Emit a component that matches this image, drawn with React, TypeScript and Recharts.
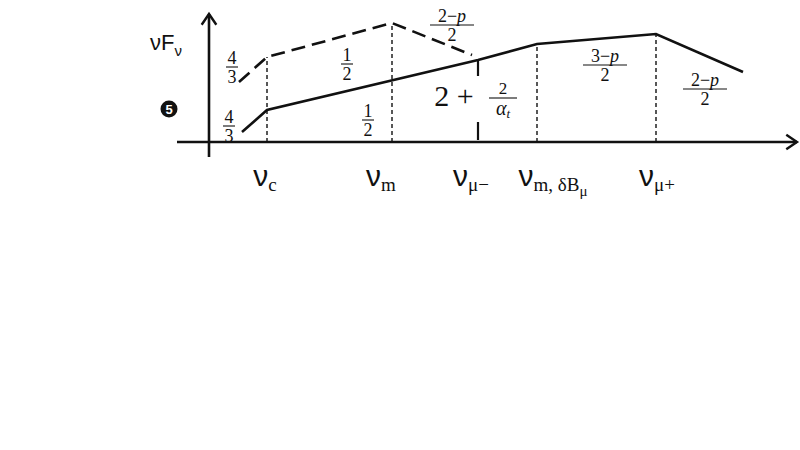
import {
  ComposedChart,
  Line,
  ReferenceDot,
  ReferenceLine,
  XAxis,
  YAxis,
} from "recharts";

// log ν / log νF_ν in arbitrary schematic units (y axis at x = 0, ν axis at y = 0)
const solidX = [3.3, 5.8, 26.9, 32.8, 44.7, 53.4];
const solidY = [1.0, 3.2, 8.2, 9.8, 10.8, 7.0];
const dashedX = [3.0, 5.8, 18.3, 26.3];
const dashedY = [6.0, 8.5, 11.9, 8.7];

// break frequencies
const breakX = [5.8, 18.3, 26.9, 32.8, 44.7];
const breakTop = [8.5, 11.9, 8.2, 9.8, 10.8];
const breakSub = ["c", "m", "μ−", "m, δB", "μ+"];
const breakSubSub = ["", "", "", "μ", ""];

// spectral slopes (numerator / denominator)
const slopeNum = ["4", "4", "1", "1", "2−p", "3−p", "2−p"];
const slopeDen = ["3", "3", "2", "2", "2", "2", "2"];

// where the slope labels sit (bar centre, chart units)
const slopeAt = [
  [2.3, 7.5],
  [2.0, 1.6],
  [13.8, 7.8],
  [15.9, 2.2],
  [24.3, 11.7],
  [39.6, 7.7],
  [49.6, 5.3],
];
// per-label horizontal nudge of the tick labels, px
const tickShift = [-2, -11, -7, 16, 1];

const solid = solidX.map((x, i) => ({ x, y: solidY[i] }));
const dashed = dashedX.map((x, i) => ({ x, y: dashedY[i] }));

const INK = "#111";
const SERIF = "'Liberation Serif', 'DejaVu Serif', serif";
const SANS = "'Liberation Sans', Arial, sans-serif";

function Arrow(props: any) {
  const { x1, y1, x2, y2 } = props;
  const a = Math.atan2(y2 - y1, x2 - x1);
  const len = 13;
  const spread = 0.6;
  const p1 = [x2 - len * Math.cos(a - spread), y2 - len * Math.sin(a - spread)];
  const p2 = [x2 - len * Math.cos(a + spread), y2 - len * Math.sin(a + spread)];
  return (
    <g>
      <line x1={x1} y1={y1} x2={x2} y2={y2} stroke={INK} strokeWidth={2.6} />
      <polyline
        points={`${p1[0]},${p1[1]} ${x2},${y2} ${p2[0]},${p2[1]}`}
        fill="none"
        stroke={INK}
        strokeWidth={2.4}
        strokeLinejoin="miter"
      />
    </g>
  );
}

function Numer({ s }: { s: string }) {
  // italic p in "2−p"
  if (s.endsWith("p")) {
    return (
      <>
        {s.slice(0, -1)}
        <tspan fontStyle="italic">p</tspan>
      </>
    );
  }
  return <>{s}</>;
}

function Fraction({ cx, cy, num, den }: any) {
  const w = num.length > 1 ? 44 : 12;
  return (
    <g fontFamily={SERIF} fontSize={18} fill={INK}>
      <text x={cx} y={cy - 3} textAnchor="middle">
        <Numer s={num} />
      </text>
      <line x1={cx - w / 2} x2={cx + w / 2} y1={cy} y2={cy} stroke={INK} strokeWidth={1.1} />
      <text x={cx} y={cy + 16} textAnchor="middle">
        {den}
      </text>
    </g>
  );
}

function BreakTick(props: any) {
  const { x, y, payload } = props;
  const i = breakX.indexOf(payload.value);
  if (i < 0) return null;
  return (
    <text
      x={x + tickShift[i]}
      y={y + 44}
      textAnchor="middle"
      fill={INK}
    >
      <tspan fontFamily={SANS} fontSize={30}>
        ν
      </tspan>
      <tspan fontFamily={SERIF} fontSize={19} dy={5}>
        {breakSub[i]}
      </tspan>
      {breakSubSub[i] && (
        <tspan fontFamily={SERIF} fontSize={15} dy={5}>
          {breakSubSub[i]}
        </tspan>
      )}
    </text>
  );
}

export default function App() {
  return (
    <div
      style={{
        position: "absolute",
        left: 0,
        top: 0,
        width: 800,
        height: 450,
        background: "#fff",
      }}
    >
      <ComposedChart
        width={800}
        height={450}
        margin={{ top: 7, right: 1, left: 149, bottom: 278 }}
      >
        <XAxis
          type="number"
          dataKey="x"
          domain={[-6, 59]}
          allowDataOverflow
          ticks={breakX}
          interval={0}
          axisLine={false}
          tickLine={false}
          tickSize={0}
          tickMargin={0}
          height={30}
          tick={<BreakTick />}
        />
        <YAxis type="number" domain={[0, 13.5]} allowDataOverflow hide width={0} />

        {/* axes with arrow heads */}
        <ReferenceLine
          segment={[
            { x: -3.2, y: 0 },
            { x: 58.8, y: 0 },
          ]}
          ifOverflow="visible"
          shape={<Arrow />}
        />
        <ReferenceLine
          segment={[
            { x: 0, y: -1.5 },
            { x: 0, y: 12.8 },
          ]}
          ifOverflow="visible"
          shape={<Arrow />}
        />

        {/* break frequency markers */}
        {breakX.map((bx, i) =>
          i === 2 ? null : (
            <ReferenceLine
              key={`b${i}`}
              segment={[
                { x: bx, y: 0 },
                { x: bx, y: breakTop[i] },
              ]}
              stroke={INK}
              strokeWidth={1.4}
              strokeDasharray="4 3"
              ifOverflow="visible"
            />
          )
        )}
        <ReferenceLine
          segment={[
            { x: breakX[2], y: 0.2 },
            { x: breakX[2], y: 2.0 },
          ]}
          stroke={INK}
          strokeWidth={2.2}
        />
        <ReferenceLine
          segment={[
            { x: breakX[2], y: 6.6 },
            { x: breakX[2], y: breakTop[2] },
          ]}
          stroke={INK}
          strokeWidth={2.2}
        />

        <Line
          data={dashed}
          dataKey="y"
          type="linear"
          stroke={INK}
          strokeWidth={2.6}
          strokeDasharray="14 7"
          dot={false}
          activeDot={false}
          isAnimationActive={false}
        />
        <Line
          data={solid}
          dataKey="y"
          type="linear"
          stroke={INK}
          strokeWidth={2.6}
          dot={false}
          activeDot={false}
          isAnimationActive={false}
        />

        {slopeNum.map((n, i) => (
          <ReferenceDot
            key={`s${i}`}
            x={slopeAt[i][0]}
            y={slopeAt[i][1]}
            r={0}
            ifOverflow="visible"
            shape={(p: any) => (
              <Fraction cx={p.cx} cy={p.cy} num={n} den={slopeDen[i]} />
            )}
          />
        ))}

        {/* 2 + 2/α_t between ν_m and ν_μ− */}
        <ReferenceDot
          x={24.5}
          y={4.4}
          r={0}
          ifOverflow="visible"
          shape={(p: any) => (
            <g fill={INK} fontFamily={SERIF}>
              <text x={p.cx} y={p.cy + 8} fontSize={30} textAnchor="middle">
                2 +
              </text>
              <text x={p.cx + 49} y={p.cy - 4} fontSize={17} textAnchor="middle">
                2
              </text>
              <line
                x1={p.cx + 35}
                x2={p.cx + 63}
                y1={p.cy}
                y2={p.cy}
                stroke={INK}
                strokeWidth={1.1}
              />
              <text x={p.cx + 49} y={p.cy + 17} fontSize={20} textAnchor="middle">
                <tspan fontStyle="italic">α</tspan>
                <tspan fontStyle="italic" fontSize={13} dy={3}>
                  t
                </tspan>
              </text>
            </g>
          )}
        />

        {/* y axis title νF_ν */}
        <ReferenceDot
          x={-5.9}
          y={9.2}
          r={0}
          ifOverflow="visible"
          shape={(p: any) => (
            <text x={p.cx} y={p.cy} fill={INK} fontFamily={SANS} fontSize={22}>
              νF
              <tspan fontSize={15} dy={6}>
                ν
              </tspan>
            </text>
          )}
        />

        {/* case number ❺ */}
        <ReferenceDot
          x={-4.0}
          y={3.3}
          r={0}
          ifOverflow="visible"
          shape={(p: any) => (
            <g>
              <circle cx={p.cx} cy={p.cy} r={8.5} fill={INK} />
              <text
                x={p.cx}
                y={p.cy + 4.5}
                textAnchor="middle"
                fill="#fff"
                fontFamily={SANS}
                fontWeight="bold"
                fontSize={13}
              >
                5
              </text>
            </g>
          )}
        />
      </ComposedChart>
    </div>
  );
}
